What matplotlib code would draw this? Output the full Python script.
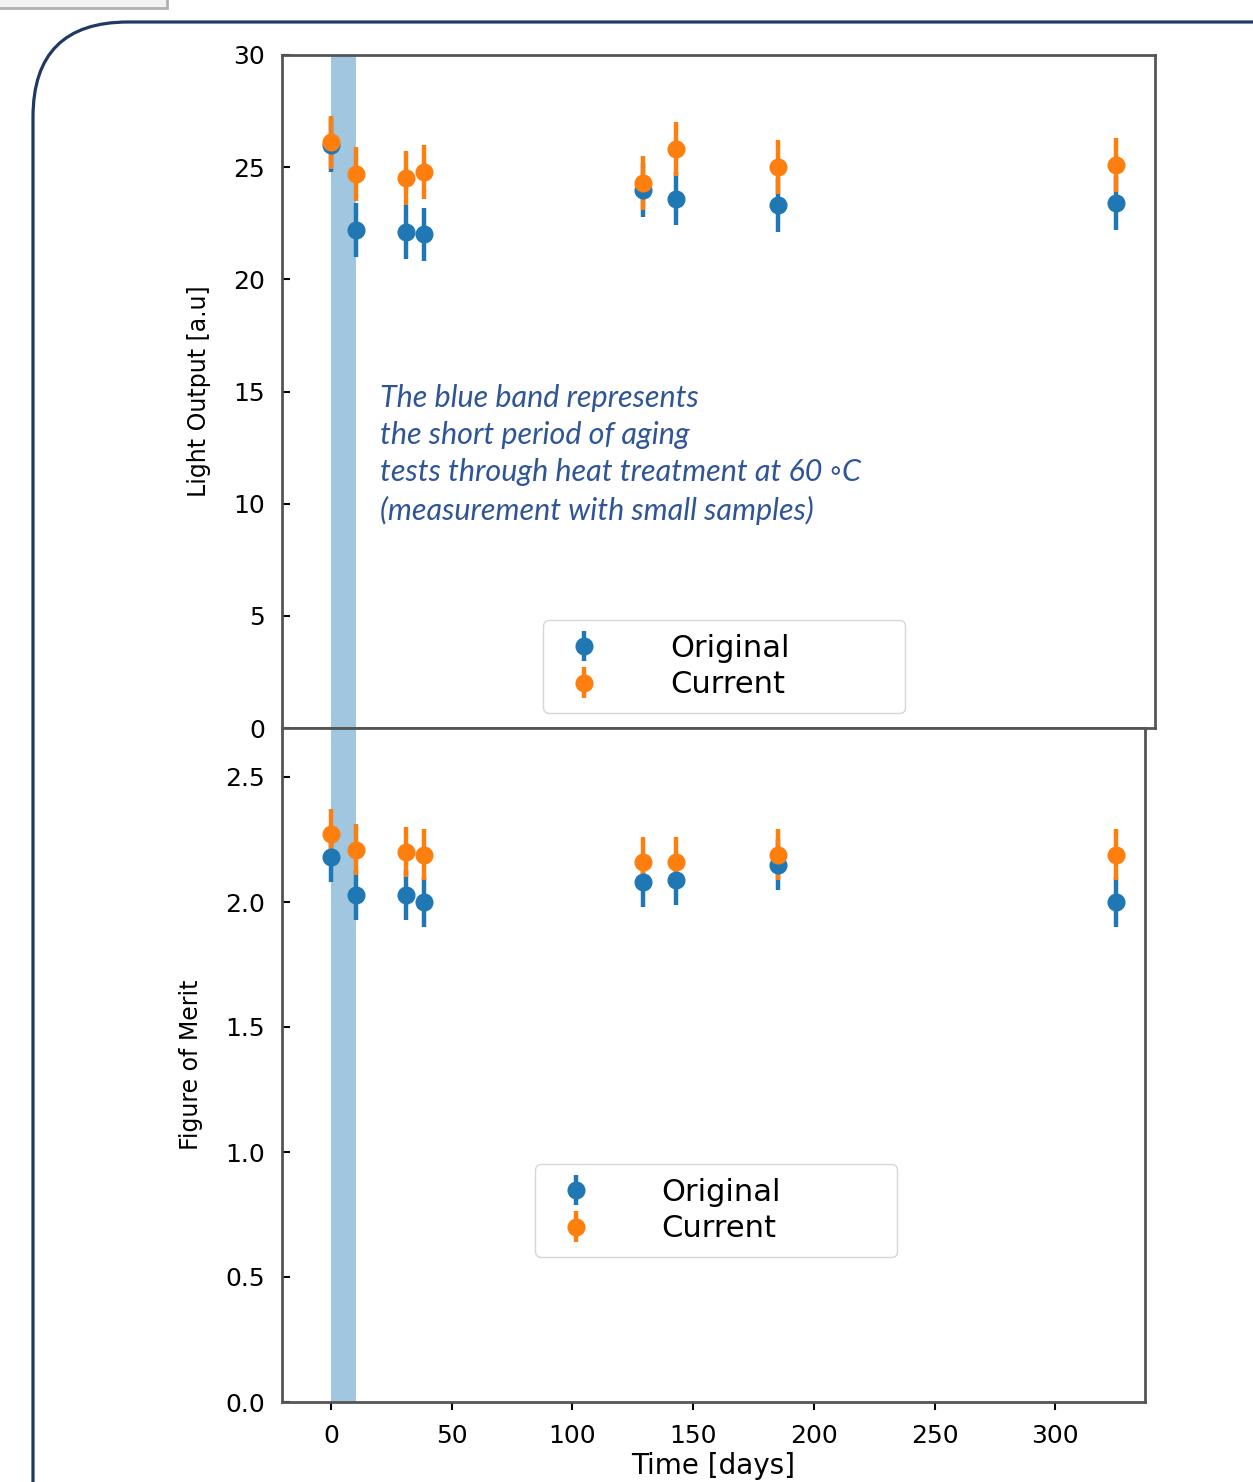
import matplotlib
matplotlib.use("Agg")
import matplotlib.pyplot as plt
from matplotlib.patches import FancyBboxPatch, Rectangle

# measurement days
days = [0, 10.3, 31, 38.5, 129, 143, 185, 325]

# light output [a.u]
lo_original = [26.0, 22.2, 22.1, 22.0, 24.0, 23.6, 23.3, 23.4]
lo_current = [26.1, 24.7, 24.5, 24.8, 24.3, 25.8, 25.0, 25.1]
lo_err = 1.2

# figure of merit
fom_original = [2.18, 2.03, 2.03, 2.00, 2.08, 2.09, 2.15, 2.00]
fom_current = [2.27, 2.21, 2.20, 2.19, 2.16, 2.16, 2.19, 2.19]
fom_err = 0.1

band = (0, 10.5)
note = ("The blue band represents\nthe short period of aging\n"
        "tests through heat treatment at 60 \u25e6C\n(measurement with small samples)")

W, H = 1253, 1482
fig = plt.figure(figsize=(W / 100, H / 100), dpi=100)

# slide decoration behind the chart
bg = fig.add_axes([0, 0, 1, 1], zorder=-1)
bg.set_xlim(0, W)
bg.set_ylim(H, 0)
bg.axis("off")
bg.add_patch(FancyBboxPatch((33 + 95, 22 + 95), 1400, 1600,
                            boxstyle="round,pad=95", fill=False,
                            edgecolor="#1f3864", linewidth=2.3))
bg.add_patch(Rectangle((-5, -10), 172, 18, facecolor="#f2f2f2",
                       edgecolor="#b0b0b0", linewidth=2))


def px_axes(left, top, right, bottom):
    return fig.add_axes([left / W, 1 - bottom / H, (right - left) / W, (bottom - top) / H])


ax1 = px_axes(282, 55, 1155, 728)
ax2 = px_axes(282, 728, 1145, 1402)


def draw(ax, orig, curr, err):
    ax.axvspan(*band, color="#1f77b4", alpha=0.42, linewidth=0, zorder=1)
    ax.errorbar(days, orig, yerr=err, fmt="o", color="#1f77b4", ms=12,
                elinewidth=3.2, capsize=0, label="Original", zorder=3)
    ax.errorbar(days, curr, yerr=err, fmt="o", color="#ff7f0e", ms=12,
                elinewidth=3.2, capsize=0, label="Current", zorder=3)
    for s in ax.spines.values():
        s.set_color("#555555")
        s.set_linewidth(2)
    ax.tick_params(axis="y", direction="in", length=6, width=1.5, labelsize=18, pad=12)
    ax.tick_params(axis="x", direction="out", length=6, width=1.5, labelsize=18, pad=10)


def legend(ax, x0, y0, w, h):
    ax.legend(loc="lower left", bbox_to_anchor=(x0, y0, w, h), mode="expand",
              borderaxespad=0, fontsize=22, handletextpad=1.9, borderpad=0.45,
              labelspacing=0.25, handlelength=1.8)


draw(ax1, lo_original, lo_current, lo_err)
ax1.set_xlim(-20.3, 341.2)
ax1.set_ylim(0, 30)
ax1.set_xticks([0, 50, 100, 150, 200, 250, 300])
ax1.set_xticklabels([])
ax1.set_ylabel("Light Output [a.u]", fontsize=17, labelpad=16)
legend(ax1, 0.299, 0.022, 0.415, 0.14)
ax1.text(20.3, 12.2, note, fontsize=22, style="italic", color="#2f5597",
         family=["Lato", "DejaVu Sans"], va="center", ha="left", linespacing=1.4)

draw(ax2, fom_original, fom_current, fom_err)
ax2.set_xlim(-20.3, 337.1)
ax2.set_ylim(0, 2.696)
ax2.set_xticks([0, 50, 100, 150, 200, 250, 300])
ax2.set_yticks([0.0, 0.5, 1.0, 1.5, 2.0, 2.5])
ax2.set_xlabel("Time [days]", fontsize=20, labelpad=3)
ax2.set_ylabel("Figure of Merit", fontsize=17, labelpad=16)
legend(ax2, 0.293, 0.215, 0.42, 0.14)

fig.savefig("out.png", dpi=100)
